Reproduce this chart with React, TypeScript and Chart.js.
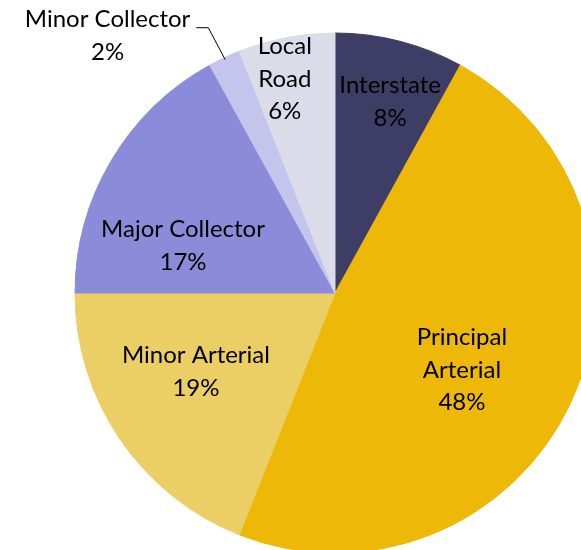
import React, { useEffect, useRef } from "react";
import { Chart, registerables } from "chart.js";

Chart.register(...registerables);

const categories = ["Interstate", "Principal Arterial", "Minor Arterial", "Major Collector", "Minor Collector", "Local Road"];
const shares = [8, 48, 19, 17, 2, 6];
const labelLines = [["Interstate"], ["Principal", "Arterial"], ["Minor Arterial"], ["Major Collector"], ["Minor Collector"], ["Local", "Road"]];
const colors = ["#3d3d65", "#edb808", "#ebce64", "#8b8bd9", "#c4c4ec", "#dbdbea"];

// label placement: angle (deg, clockwise from top) and distance as fraction of radius
const labelPlacement = [
  { angle: 16.1, dist: 0.765 },
  { angle: 121.2, dist: 0.571 },
  { angle: 240.4, dist: 0.615 },
  { angle: 287.2, dist: 0.612 },
  { angle: 318.5, dist: 1.32, leader: true },
  { angle: 346.8, dist: 0.846 },
];

const FONT_FAMILY = "Lato, 'Noto Sans', sans-serif";
const FONT_SIZE = 24;
const LINE_H = 32.5;

const labelPlugin = {
  id: "sliceLabels",
  afterDatasetsDraw(chart: any) {
    const ctx = chart.ctx;
    const meta = chart.getDatasetMeta(0);
    const data = chart.data.datasets[0].data as number[];
    const total = data.reduce((a, b) => a + b, 0);
    ctx.save();
    ctx.font = `${FONT_SIZE}px ${FONT_FAMILY}`;
    ctx.fillStyle = "#000";
    ctx.textAlign = "center";
    ctx.textBaseline = "middle";
    meta.data.forEach((arc: any, i: number) => {
      const p = labelPlacement[i];
      const R = arc.outerRadius;
      const a = (p.angle * Math.PI) / 180;
      const cx = arc.x + Math.sin(a) * R * p.dist;
      const cy = arc.y - Math.cos(a) * R * p.dist;
      const pct = Math.round((data[i] / total) * 100) + "%";
      const lines = [...labelLines[i], pct];
      const n = lines.length;
      lines.forEach((t, k) => {
        ctx.fillText(t, cx, cy + (k - (n - 1) / 2) * LINE_H);
      });
      if (p.leader) {
        const mid = (arc.startAngle + arc.endAngle) / 2;
        const ex = arc.x + Math.cos(mid) * (R - 2);
        const ey = arc.y + Math.sin(mid) * (R - 2);
        const w0 = ctx.measureText(labelLines[i][0]).width;
        const textRight = cx + w0 / 2;
        const ty = cy - LINE_H / 2 + 8;
        ctx.strokeStyle = "#000";
        ctx.lineWidth = 1;
        ctx.beginPath();
        ctx.moveTo(ex, ey);
        ctx.lineTo(textRight + 18, ty);
        ctx.lineTo(textRight + 6, ty);
        ctx.stroke();
      }
    });
    ctx.restore();
  },
};

export default function App() {
  const ref = useRef<HTMLCanvasElement>(null);
  useEffect(() => {
    const chart = new Chart(ref.current!, {
      type: "pie",
      data: {
        labels: categories,
        datasets: [
          {
            data: shares,
            backgroundColor: colors,
            borderColor: colors,
            borderWidth: 1,
            radius: 260,
            clip: false as any,
          },
        ],
      },
      options: {
        responsive: false,
        animation: false,
        devicePixelRatio: 1,
        layout: { padding: { left: 89, top: 36, right: 0, bottom: 0 } },
        plugins: { legend: { display: false }, tooltip: { enabled: false } },
      },
      plugins: [labelPlugin],
    });
    return () => chart.destroy();
  }, []);
  return (
    <div style={{ position: "absolute", left: 0, top: 0, width: 581, height: 550, background: "#fff" }}>
      <canvas ref={ref} width={581} height={550} style={{ width: 581, height: 550, display: "block" }} />
    </div>
  );
}
